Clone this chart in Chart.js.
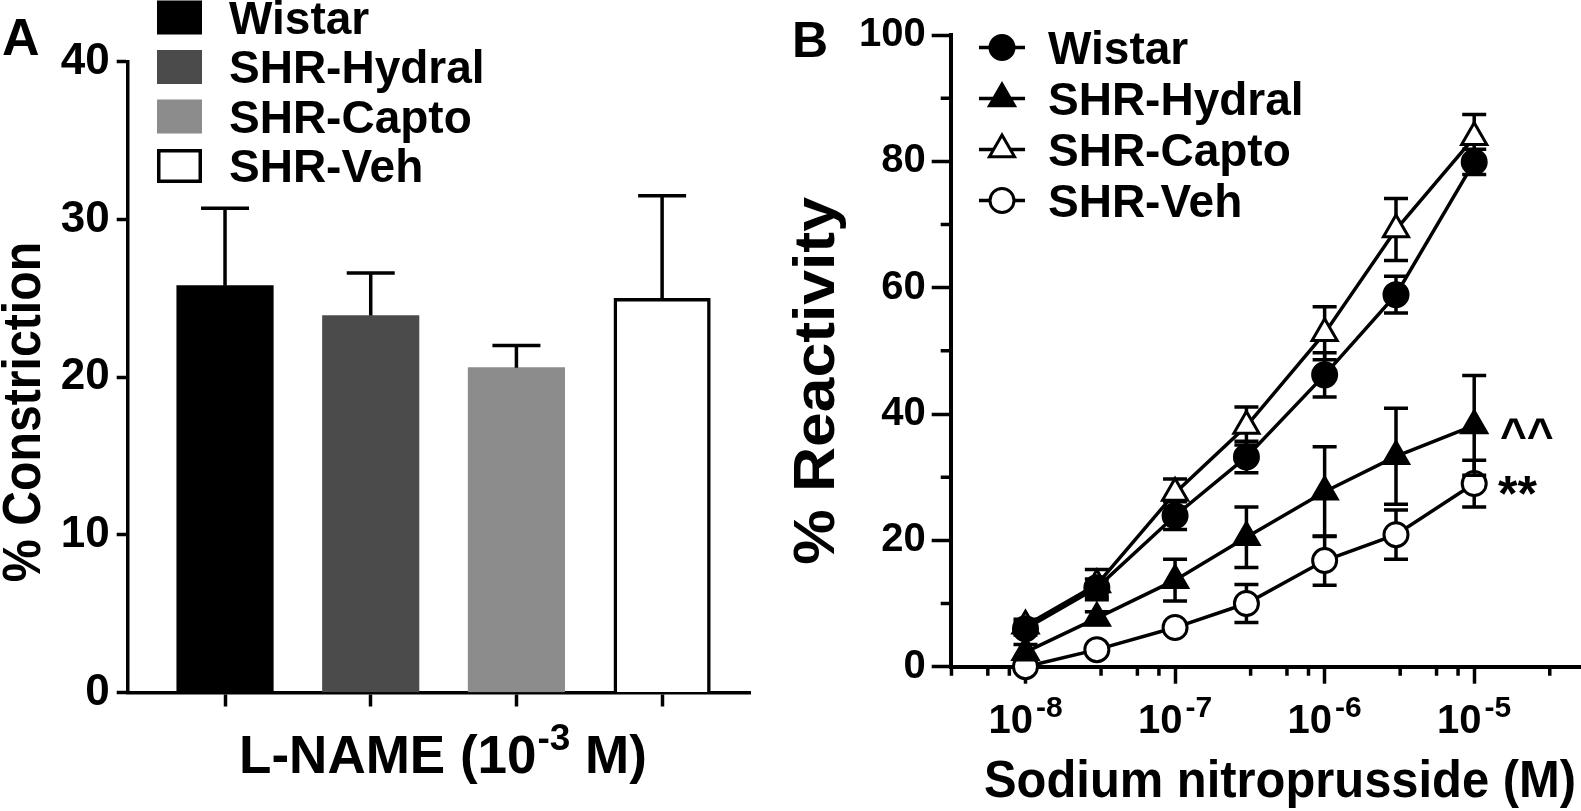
<!DOCTYPE html>
<html><head><meta charset="utf-8">
<script src="https://cdn.jsdelivr.net/npm/chart.js@4.4.1/dist/chart.umd.min.js"></script>
<style>
html,body{margin:0;padding:0;background:#fff;width:1581px;height:811px;overflow:hidden}
canvas{position:absolute;top:0}
#cA{left:0}
#cB{left:780px}
</style></head><body>
<canvas id="cA" width="780" height="811"></canvas>
<canvas id="cB" width="801" height="811"></canvas>
<script>
// ---------- data ----------
const groups = ['Wistar', 'SHR-Hydral', 'SHR-Capto', 'SHR-Veh'];
// Panel A: L-NAME constriction
const lnameMean = [25.8, 23.9, 20.6, 25.0];
const lnameSem  = [4.9, 2.7, 1.4, 6.5];
const barColors = ['#000000', '#4b4b4b', '#8c8c8c', '#ffffff'];
const yTicksA = [0, 10, 20, 30, 40];
// Panel B: sodium nitroprusside
const snpDoses   = [1e-8, 3e-8, 1e-7, 3e-7, 1e-6, 3e-6, 1e-5];
const wistarMean = [6.0, 12.5, 23.9, 33.2, 46.2, 58.9, 79.9];
const wistarSem  = [1.0, 1.4, 2.2, 2.5, 3.5, 2.9, 2.0];
const hydralMean = [2.3, 7.7, 13.7, 20.5, 27.7, 33.3, 38.2];
const hydralSem  = [1.2, 1.0, 3.3, 4.8, 7.1, 7.6, 7.9];
const captoMean  = [6.5, 13.0, 27.5, 38.1, 52.8, 69.2, 83.8];
const captoSem   = [1.0, 2.4, 2.2, 3.0, 4.2, 4.9, 3.6];
const vehMean    = [0.0, 2.7, 6.2, 10.0, 16.8, 20.9, 29.0];
const vehSem     = [0.5, 0.7, 0.8, 3.0, 3.9, 3.9, 3.7];
const yTicksB = [0, 20, 40, 60, 80, 100];
const yMinorB = [10, 30, 50, 70, 90];
const xMajorB = [1e-8, 1e-7, 1e-6, 1e-5];
const xMajorExp = ['-8', '-7', '-6', '-5'];
const xMinorB = [3.2e-9, 5.6e-9, 7.8e-9, 3.2e-8, 5.6e-8, 7.8e-8, 3.2e-7, 5.6e-7, 7.8e-7,
                 3.2e-6, 5.6e-6, 7.8e-6, 3.2e-5];

// ---------- helpers ----------
const FONT = '"Liberation Sans", Arial, Helvetica, sans-serif';
Chart.defaults.font.family = FONT;
Chart.defaults.color = '#000';

function txt(ctx, s, x, y, size, align) {
  ctx.font = 'bold ' + size + 'px ' + FONT;
  ctx.textAlign = align || 'left';
  ctx.textBaseline = 'alphabetic';
  ctx.fillStyle = '#000';
  ctx.fillText(s, x, y);
}
// text stretched along its direction by factor sx, centred at (cx, y), optional rotation
function txtScaled(ctx, s, cx, y, size, sx, rot) {
  ctx.save();
  ctx.translate(cx, y);
  if (rot) ctx.rotate(rot);
  ctx.scale(sx, 1);
  txt(ctx, s, 0, 0, size, 'center');
  ctx.restore();
}
// parts: [text, size, raise, gapBefore]
function richText(ctx, parts, cx, y) {
  let total = 0;
  const w = parts.map(p => { ctx.font = 'bold ' + p[1] + 'px ' + FONT; const m = ctx.measureText(p[0]).width; total += m + (p[3] || 0); return m; });
  let x = cx - total / 2;
  parts.forEach((p, i) => { x += (p[3] || 0); txt(ctx, p[0], x, y - p[2], p[1], 'left'); x += w[i]; });
}
function marker(ctx, style, r, fill, x, y) {
  ctx.save();
  ctx.fillStyle = fill; ctx.strokeStyle = '#000'; ctx.lineWidth = 3;
  Chart.helpers.drawPoint(ctx, { pointStyle: style, radius: r, borderWidth: 3, rotation: 0 }, x, y);
  ctx.restore();
}

// ---------- Panel A ----------
const errA = {
  id: 'errA',
  afterDatasetsDraw(chart) {
    const ctx = chart.ctx, ys = chart.scales.y;
    const meta = chart.getDatasetMeta(0);
    ctx.save(); ctx.strokeStyle = '#000'; ctx.lineWidth = 3.5; ctx.lineCap = 'butt';
    meta.data.forEach((el, i) => {
      const top = ys.getPixelForValue(lnameMean[i] + lnameSem[i]);
      ctx.beginPath();
      ctx.moveTo(el.x, el.y); ctx.lineTo(el.x, top);
      ctx.moveTo(el.x - 24, top); ctx.lineTo(el.x + 24, top);
      ctx.stroke();
    });
    ctx.restore();
  }
};
const decoA = {
  id: 'decoA',
  afterDraw(chart) {
    const ctx = chart.ctx;
    txt(ctx, 'A', 2, 55, 52);
    groups.forEach((g, i) => {
      const cy = 17.5 + 49.5 * i;
      ctx.save();
      ctx.fillStyle = barColors[i];
      ctx.fillRect(157, cy - 17, 45, 34);
      if (i === 3) { ctx.strokeStyle = '#000'; ctx.lineWidth = 3.5; ctx.strokeRect(158.75, cy - 15.25, 41.5, 30.5); }
      ctx.restore();
      txt(ctx, g, 229, cy + 16, 46);
    });
    txtScaled(ctx, '% Constriction', 40, 412, 53, 0.91, -Math.PI / 2);
    richText(ctx, [['L-NAME (10', 53, 0], ['-3', 37, 23, 1], [' M)', 53, 0]], 443, 773);
  }
};

new Chart(document.getElementById('cA'), {
  type: 'bar',
  data: {
    datasets: [{
      data: lnameMean.map((v, i) => ({ x: i, y: v })),
      backgroundColor: barColors,
      borderColor: '#000',
      borderWidth: [0, 0, 0, 3.5],
      borderSkipped: 'start',
      barThickness: 96.5
    }]
  },
  options: {
    responsive: false, animation: false, devicePixelRatio: 1, events: [],
    layout: { autoPadding: false, padding: { top: 61.7, right: 29.3, left: 0, bottom: 0 } },
    plugins: { legend: { display: false }, tooltip: { enabled: false } },
    scales: {
      x: {
        type: 'linear', min: -0.668, max: 3.608, offset: false, bounds: 'data',
        afterBuildTicks: s => { s.ticks = groups.map((_, i) => ({ value: i })); },
        afterFit: s => { s.height = 811 - 692.5; },
        ticks: { display: false },
        grid: { offset: false, drawOnChartArea: false, tickLength: 14, tickWidth: 3.5, tickColor: '#000' },
        border: { color: '#000', width: 3.5 }
      },
      y: {
        min: 0, max: 40, bounds: 'data',
        afterBuildTicks: s => { s.ticks = yTicksA.map(v => ({ value: v })); },
        afterFit: s => { s.width = 127.7; },
        ticks: { font: { size: 44, weight: 'bold' }, color: '#000', padding: 7 },
        grid: { drawOnChartArea: false, tickLength: 11, tickWidth: 3.5, tickColor: '#000' },
        border: { color: '#000', width: 3.5 }
      }
    }
  },
  plugins: [errA, decoA]
});

// ---------- Panel B ----------
const seriesB = [
  { label: groups[0], mean: wistarMean, sem: wistarSem, style: 'circle', r: 12, fill: '#000' },
  { label: groups[1], mean: hydralMean, sem: hydralSem, style: 'triangle', r: 14.5, fill: '#000' },
  { label: groups[2], mean: captoMean, sem: captoSem, style: 'triangle', r: 14.5, fill: '#fff' },
  { label: groups[3], mean: vehMean, sem: vehSem, style: 'circle', r: 12, fill: '#fff' }
];

const errB = {
  id: 'errB',
  beforeDatasetDraw(chart, args) {
    const s = seriesB[args.index];
    const ctx = chart.ctx, ys = chart.scales.y;
    ctx.save(); ctx.strokeStyle = '#000'; ctx.lineWidth = 3.5; ctx.lineCap = 'butt';
    args.meta.data.forEach((el, i) => {
      const t = ys.getPixelForValue(s.mean[i] + s.sem[i]);
      const b = ys.getPixelForValue(Math.max(0, s.mean[i] - s.sem[i]));
      ctx.beginPath();
      ctx.moveTo(el.x, b); ctx.lineTo(el.x, t);
      ctx.moveTo(el.x - 12, t); ctx.lineTo(el.x + 12, t);
      ctx.moveTo(el.x - 12, b); ctx.lineTo(el.x + 12, b);
      ctx.stroke();
    });
    ctx.restore();
  }
};
const decoB = {
  id: 'decoB',
  afterDraw(chart) {
    const ctx = chart.ctx, xs = chart.scales.x, ys = chart.scales.y, ca = chart.chartArea;
    // minor ticks
    ctx.save(); ctx.strokeStyle = '#000'; ctx.lineWidth = 3.5;
    ctx.beginPath();
    xMinorB.forEach(v => {
      if (v < xs.min || v > xs.max) return;
      const px = xs.getPixelForValue(v);
      ctx.moveTo(px, ca.bottom); ctx.lineTo(px, ca.bottom + 9);
    });
    yMinorB.forEach(v => {
      const py = ys.getPixelForValue(v);
      ctx.moveTo(ca.left, py); ctx.lineTo(ca.left - 10, py);
    });
    ctx.stroke(); ctx.restore();
    // x tick labels 10^n
    xMajorB.forEach((v, i) => {
      richText(ctx, [['10', 40, 0], [xMajorExp[i], 30, 16.5, 3]], xs.getPixelForValue(v), 733);
    });
    txt(ctx, 'B', 12, 57, 50);
    // legend
    seriesB.forEach((s, i) => {
      const cy = 47.5 + 51 * i;
      ctx.save(); ctx.strokeStyle = '#000'; ctx.lineWidth = 3.5;
      ctx.beginPath(); ctx.moveTo(199, cy); ctx.lineTo(245, cy); ctx.stroke(); ctx.restore();
      marker(ctx, s.style, s.r, s.fill, 222, cy);
      txt(ctx, s.label, 268, cy + 16, 46);
    });
    txtScaled(ctx, '% Reactivity', 54, 381, 58, 1.076, -Math.PI / 2);
    txtScaled(ctx, 'Sodium nitroprusside (M)', 500, 797, 52, 0.94, 0);
    txt(ctx, '^^', 720, 451, 46);
    txt(ctx, '**', 718, 511, 50);
  }
};

new Chart(document.getElementById('cB'), {
  type: 'line',
  data: {
    datasets: seriesB.map(s => ({
      label: s.label,
      data: snpDoses.map((d, i) => ({ x: d, y: s.mean[i] })),
      borderColor: '#000', borderWidth: 3.5, tension: 0, fill: false, clip: false,
      pointStyle: s.style, pointRadius: s.r, pointBackgroundColor: s.fill,
      pointBorderColor: '#000', pointBorderWidth: 3
    }))
  },
  options: {
    responsive: false, animation: false, devicePixelRatio: 1, events: [],
    layout: { autoPadding: false, padding: { top: 35, right: 0, left: 0, bottom: 0 } },
    plugins: { legend: { display: false }, tooltip: { enabled: false } },
    scales: {
      x: {
        type: 'logarithmic', min: Math.pow(10, -8.5), max: Math.pow(10, -4.286), bounds: 'data',
        afterBuildTicks: s => { s.ticks = xMajorB.map(v => ({ value: v })); },
        afterFit: s => { s.height = 811 - 666.7; },
        ticks: { display: false },
        grid: { drawOnChartArea: false, tickLength: 17, tickWidth: 3.5, tickColor: '#000' },
        border: { color: '#000', width: 4 }
      },
      y: {
        min: 0, max: 100, bounds: 'data',
        afterBuildTicks: s => { s.ticks = yTicksB.map(v => ({ value: v })); },
        afterFit: s => { s.width = 170.7; },
        ticks: { font: { size: 40, weight: 'bold' }, color: '#000', padding: 6 },
        grid: { drawOnChartArea: false, tickLength: 19, tickWidth: 3.5, tickColor: '#000' },
        border: { color: '#000', width: 4 }
      }
    }
  },
  plugins: [errB, decoB]
});
</script>
</body></html>
